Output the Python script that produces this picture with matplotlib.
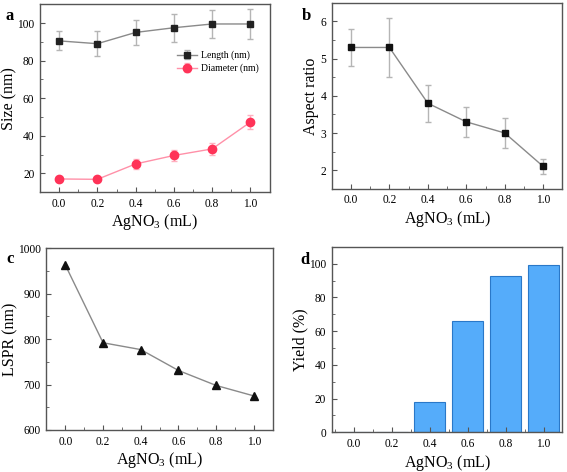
import matplotlib
matplotlib.use("Agg")
import matplotlib.pyplot as plt
from matplotlib.ticker import MultipleLocator

# ── data ──────────────────────────────────────
agno3 = [0.0, 0.2, 0.4, 0.6, 0.8, 1.0]

length     = [90.5, 89.0, 95.0, 97.5, 99.5, 99.5]
length_err = [5.0, 6.5, 6.5, 7.5, 7.5, 8.0]
diameter     = [17.0, 16.8, 25.0, 29.5, 33.0, 47.3]
diameter_err = [1.0, 1.0, 2.5, 3.0, 3.0, 3.5]

aspect     = [5.3, 5.3, 3.8, 3.3, 3.0, 2.1]
aspect_err = [0.5, 0.8, 0.5, 0.4, 0.4, 0.2]

lspr = [963, 792, 777, 731, 698, 675]

yield_pct = [0, 0, 18, 66, 93, 99]

tick_labels = ["0.0", "0.2", "0.4", "0.6", "0.8", "1.0"]

# ── style ─────────────────────────────────────
plt.rcParams['font.family'] = ['Liberation Serif', 'DejaVu Serif']
plt.rcParams['mathtext.fontset'] = 'custom'
plt.rcParams['mathtext.rm'] = 'Liberation Serif'
plt.rcParams['axes.edgecolor'] = '#555555'
plt.rcParams['axes.linewidth'] = 1.0

xlabel = r'AgNO$_3$ (mL)'
line_gray = '#8a8a8a'
err_gray = '#b5b5b5'


def style_axis(ax, xlim, ylim, ymajor, yminor):
    ax.set_xlim(*xlim)
    ax.set_ylim(*ylim)
    ax.set_xticks(agno3)
    ax.set_xticklabels(tick_labels)
    ax.xaxis.set_minor_locator(MultipleLocator(0.1))
    ax.yaxis.set_major_locator(MultipleLocator(ymajor))
    ax.yaxis.set_minor_locator(MultipleLocator(yminor))
    ax.tick_params(which='both', direction='in', labelsize=8.3, color='#555555', pad=4)
    ax.tick_params(which='major', length=3.5)
    ax.tick_params(which='minor', length=2)
    ax.set_xlabel(xlabel, fontsize=11.5, labelpad=2)


fig = plt.figure(figsize=(5.67, 4.72), dpi=100)

# --- a: size ---
ax1 = fig.add_axes([0.0705, 0.593, 0.405, 0.398])
ax1.errorbar(agno3, length, yerr=length_err, color=line_gray, lw=1,
             marker='s', ms=5, mfc='#222222', mec='#222222',
             ecolor=err_gray, elinewidth=1, capsize=2, label='Length (nm)')
ax1.errorbar(agno3, diameter, yerr=diameter_err, color='#ff90a8', lw=1,
             marker='o', ms=6, mfc='#ff3358', mec='#ff3358',
             ecolor='#ffb0c0', elinewidth=1, capsize=2, label='Diameter (nm)')
style_axis(ax1, (-0.1, 1.1), (10, 110), 20, 10)
ax1.set_ylabel('Size (nm)', fontsize=11.5, labelpad=0)
leg = ax1.legend(loc='upper right', bbox_to_anchor=(0.99, 0.80), frameon=False,
                 fontsize=7, handlelength=2.0, handletextpad=0.4, labelspacing=0.35)

# --- b: aspect ratio ---
ax2 = fig.add_axes([0.585, 0.600, 0.407, 0.394])
ax2.errorbar(agno3, aspect, yerr=aspect_err, color=line_gray, lw=1,
             marker='s', ms=5, mfc='#111111', mec='#111111',
             ecolor=err_gray, elinewidth=1, capsize=2)
style_axis(ax2, (-0.1, 1.1), (1.5, 6.5), 1, 0.5)
ax2.set_ylabel('Aspect ratio', fontsize=11.5, labelpad=1)

# --- c: LSPR ---
ax3 = fig.add_axes([0.082, 0.089, 0.399, 0.385])
ax3.plot(agno3, lspr, color=line_gray, lw=1, marker='^', ms=6,
         mfc='#111111', mec='#111111')
style_axis(ax3, (-0.1, 1.1), (600, 1000), 100, 50)
ax3.set_ylabel('LSPR (nm)', fontsize=11.5, labelpad=0)

# --- d: yield ---
ax4 = fig.add_axes([0.585, 0.084, 0.407, 0.393])
ax4.bar(agno3, yield_pct, width=0.165, color='#55acfa', edgecolor='#2a78c8', linewidth=0.8)
style_axis(ax4, (-0.118, 1.1), (0, 110), 20, 10)
ax4.set_ylabel('Yield (%)', fontsize=11.5, labelpad=0)

# panel letters
for x, y, s in [(0.010, 0.966, 'a'), (0.532, 0.966, 'b'),
                (0.012, 0.452, 'c'), (0.530, 0.450, 'd')]:
    fig.text(x, y, s, fontsize=12, fontweight='bold', va='center')

plt.savefig('out.png', dpi=100)
